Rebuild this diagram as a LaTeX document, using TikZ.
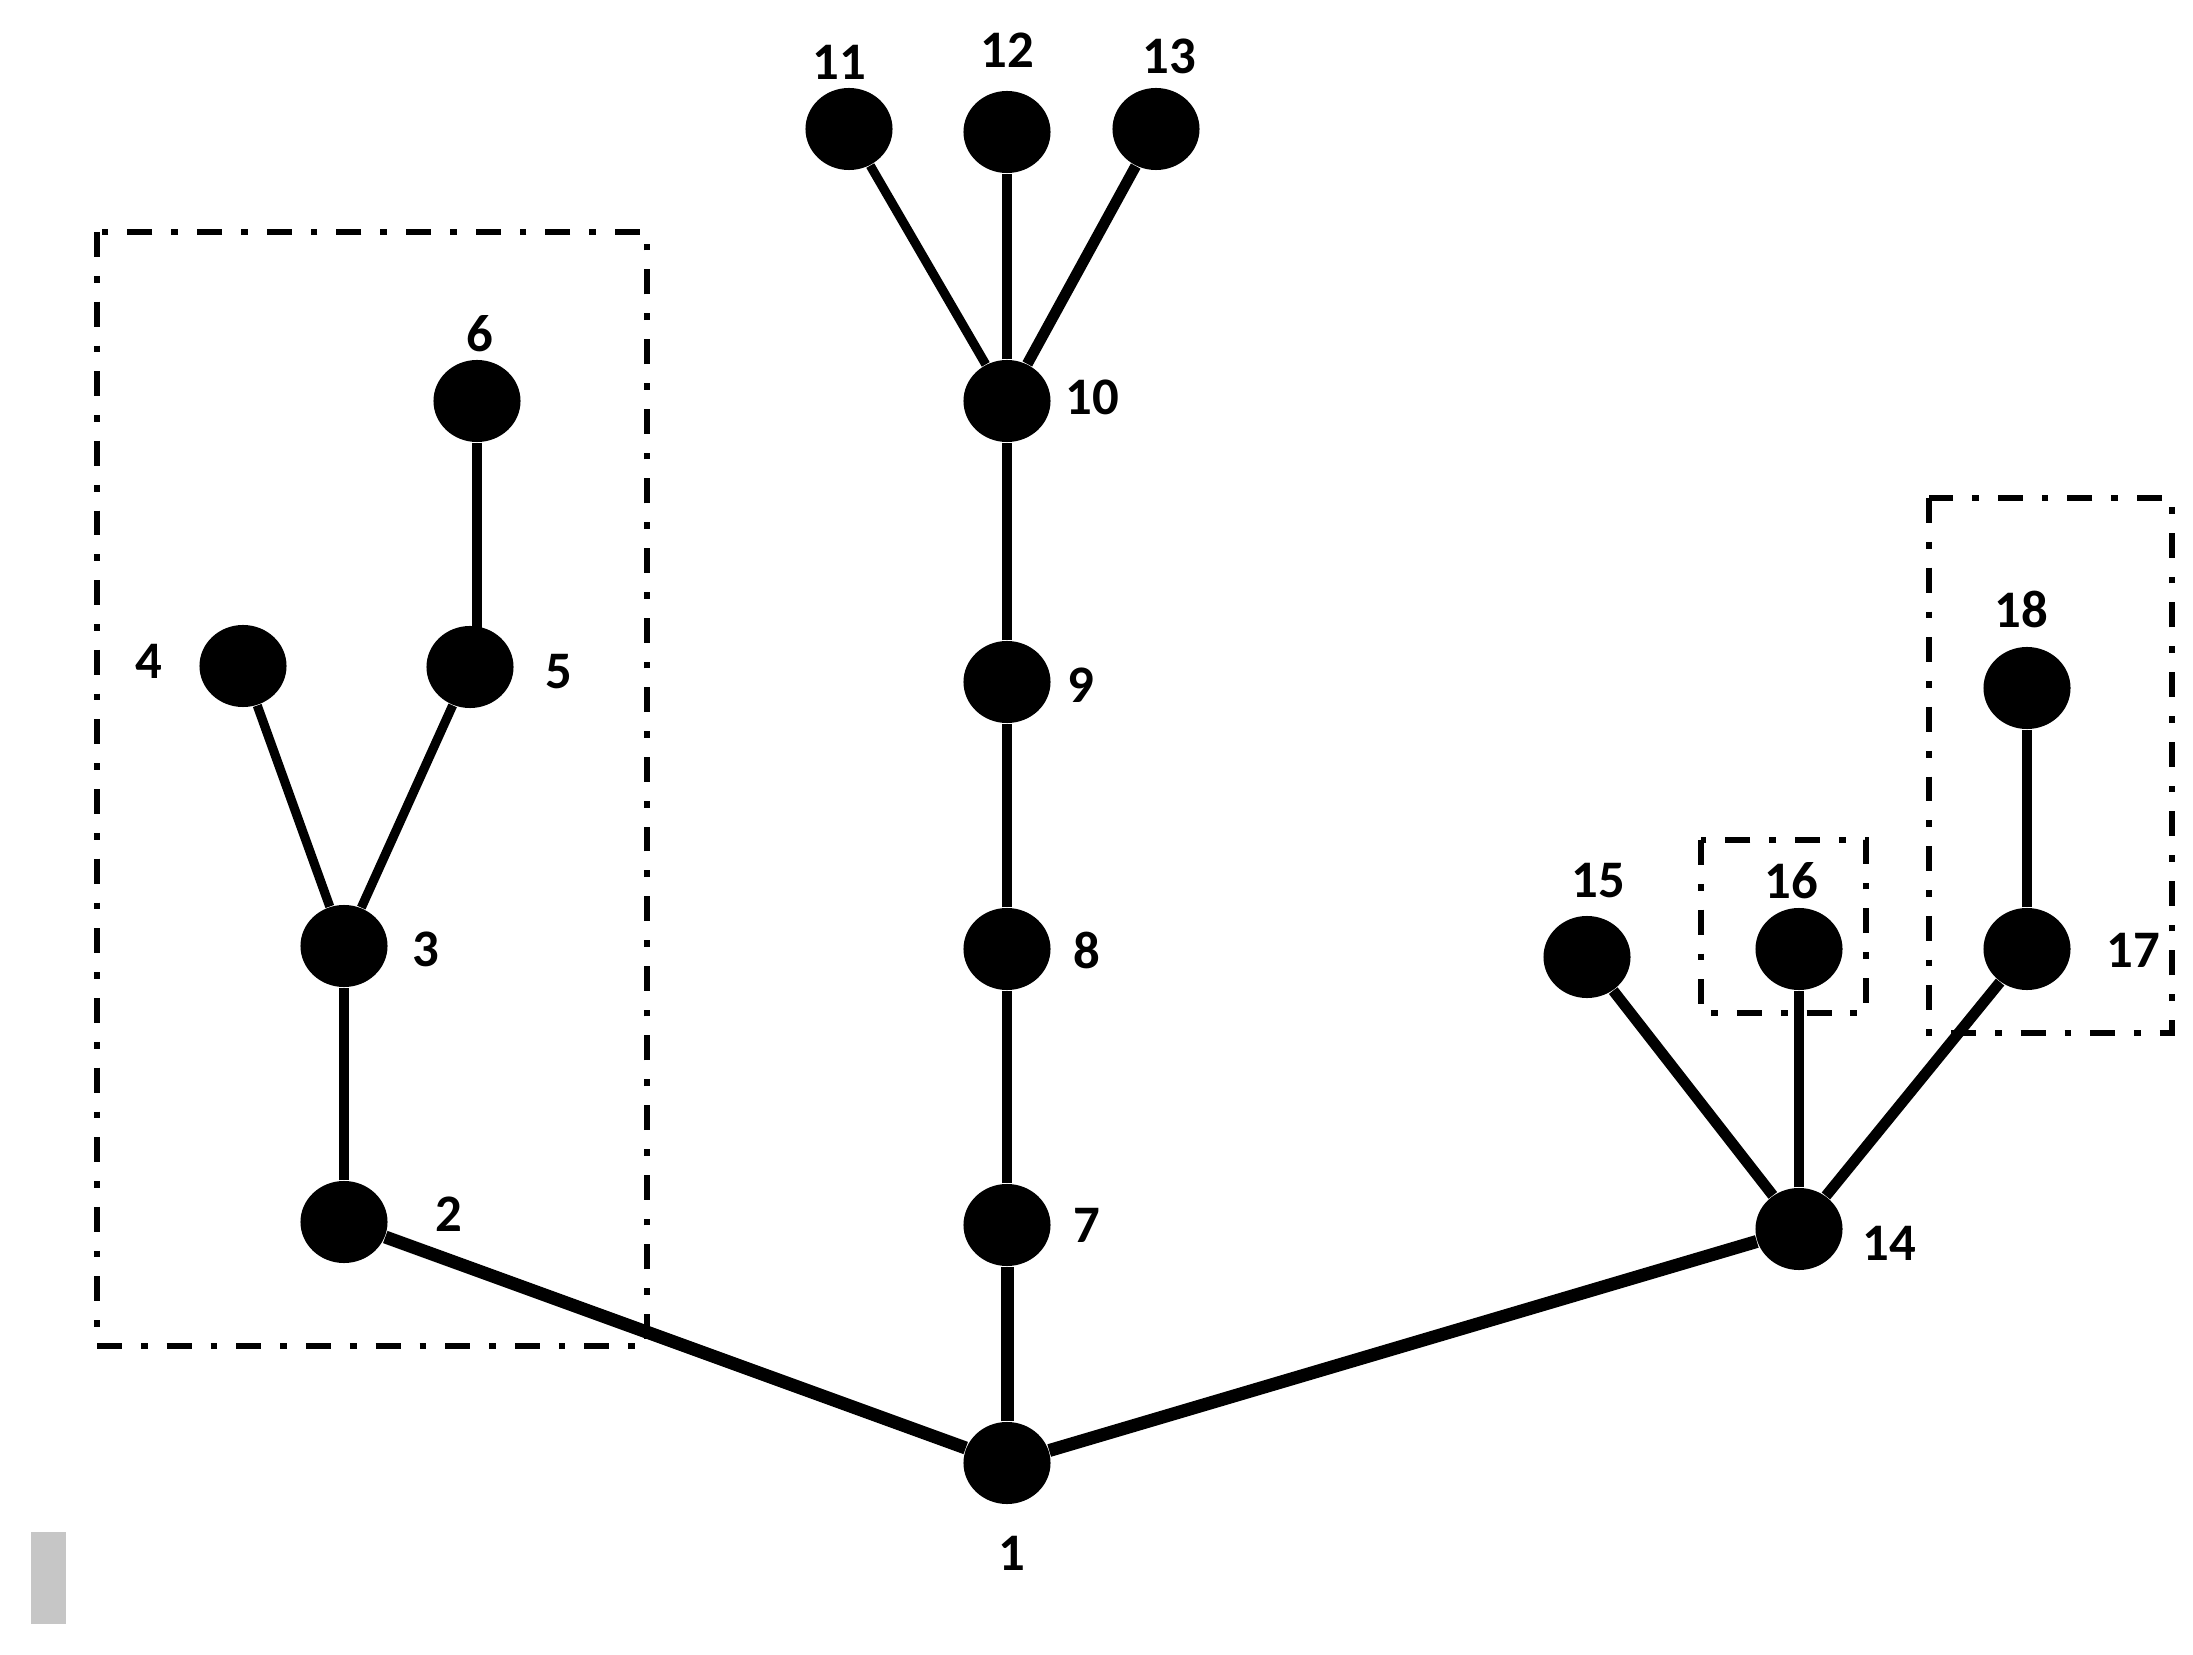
\documentclass[tikz,border=0pt]{standalone}
\usepackage{fontspec}
\setmainfont{Carlito}
\usepackage{xcolor}
\usepackage{tikz}
\usetikzlibrary{shapes.geometric}
\definecolor{barGrey}{RGB}{198,198,198}
\tikzset{
  vtx/.style={ellipse, fill=black, minimum width=0.87cm, minimum height=0.82cm, inner sep=0pt},
  num/.style={inner sep=0pt, font=\fontsize{15}{18}\selectfont\bfseries},
  thinedge/.style={line width=2.6pt},   % upper left branch
  edge/.style={line width=3.1pt},
  thickedge/.style={line width=3.7pt},  % edges out of the root
  group/.style={draw, line width=1.9pt, dash pattern=on 7.1pt off 5.4pt on 1.9pt off 5.4pt}
}
\begin{document}
\begin{tikzpicture}[x=0.01cm, y=-0.01cm]
  \useasboundingbox (0,0) rectangle (2193,1655);
  % grey mark bottom left
  \fill[barGrey] (31,1532) rectangle (66,1624);
  % groups
  \draw[group] (97,232) rectangle (647,1346);
  \draw[group] (1701,840) rectangle (1866,1013);
  \draw[group] (1929,498) rectangle (2172,1033);
  % vertices
  \foreach \n/\x/\y in {1/1007/1463, 2/344/1222, 3/344/946, 4/243/666, 5/470/667,
      6/477/401, 7/1007/1225, 8/1007/949, 9/1007/682, 10/1007/401, 11/849/129,
      12/1007/132, 13/1156/129, 14/1799/1229, 15/1587/957, 16/1799/949,
      17/2027/949, 18/2027/688}
    \node[vtx] (n\n) at (\x,\y) {};
  % edges
  \foreach \a/\b/\s in {1/2/thickedge, 1/7/thickedge, 1/14/thickedge,
      2/3/edge, 3/4/thinedge, 3/5/thinedge,
      7/8/edge, 8/9/edge, 9/10/edge, 10/11/thinedge, 10/12/edge, 10/13/edge,
      14/15/edge, 14/16/edge, 14/17/edge, 17/18/edge}
    \draw[\s] (n\a) -- (n\b);
  \draw[thinedge] (n6) -- (n6 |- n5); % straight down into 5
  % labels
  \foreach \n/\x/\y in {1/1012/1553, 2/449/1214, 3/426/949, 4/149/661, 5/559/672,
      6/480/334, 7/1087/1225, 8/1087/950, 9/1081/685, 10/1092/397, 11/839/62,
      12/1007/50, 13/1169/56, 14/1889/1243, 15/1598/881, 16/1791/881,
      17/2133/950, 18/2021/609}
    \node[num] (t\n) at (\x,\y) {\n};
\end{tikzpicture}
\end{document}
